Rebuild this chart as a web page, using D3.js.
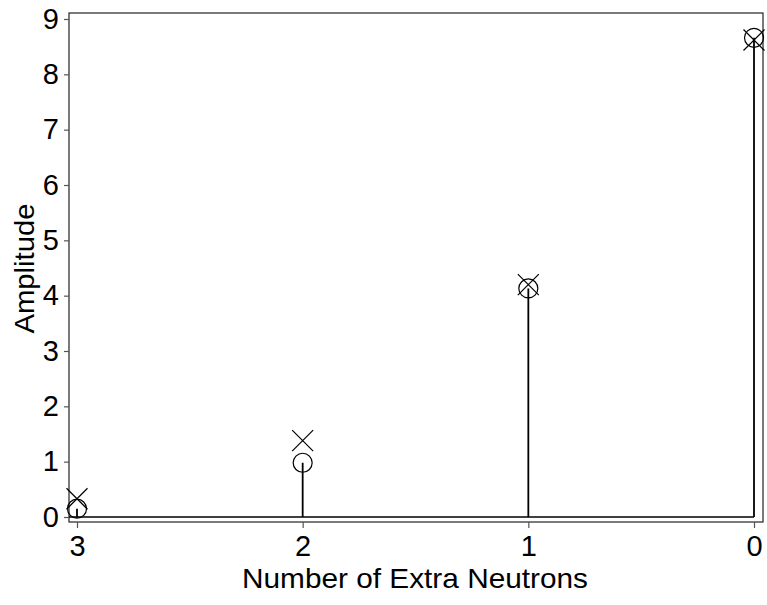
<!DOCTYPE html>
<html>
<head>
<meta charset="utf-8">
<script src="https://cdn.jsdelivr.net/npm/d3@7"></script>
<style>
  body { margin: 0; background: #fff; }
  svg text { font-family: "Liberation Sans", Arial, sans-serif; }
</style>
</head>
<body>
<div id="chart"></div>
<script>
// data
var neutrons = [3, 2, 1, 0];
var circleAmp = [0.15, 0.98, 4.13, 8.66];
var crossAmp = [0.33, 1.38, 4.2, 8.62];
var yTicks = [0, 1, 2, 3, 4, 5, 6, 7, 8, 9];

var width = 767, height = 605;
var box = { left: 69, top: 13, right: 763, bottom: 522 };

var svg = d3.select("#chart").append("svg")
    .attr("width", width)
    .attr("height", height);

var x = d3.scaleLinear().domain([3, 0]).range([77, 754]);
var y = d3.scaleLinear().domain([0, 9]).range([517, 19]);

// frame
svg.append("rect")
    .attr("x", box.left)
    .attr("y", box.top)
    .attr("width", box.right - box.left)
    .attr("height", box.bottom - box.top)
    .attr("fill", "none")
    .attr("stroke", "#222")
    .attr("stroke-width", 1.2);

// axes
var yAxis = svg.append("g")
    .attr("transform", "translate(" + box.left + ",0)")
    .call(d3.axisLeft(y).tickValues(yTicks).tickSize(5).tickPadding(5).tickFormat(d3.format("d")));

var xAxis = svg.append("g")
    .attr("transform", "translate(0," + box.bottom + ")")
    .call(d3.axisBottom(x).tickValues(neutrons).tickSize(6).tickPadding(7).tickFormat(d3.format("d")));

[yAxis, xAxis].forEach(function(g) {
    g.select(".domain").remove();
    g.selectAll(".tick line").attr("stroke", "#555").attr("stroke-width", 1.2);
    g.selectAll(".tick text").attr("font-size", 29).attr("fill", "#000")
        .attr("font-family", "Liberation Sans, Arial, sans-serif");
});

// baseline
svg.append("line")
    .attr("x1", box.left).attr("x2", x(0))
    .attr("y1", y(0)).attr("y2", y(0))
    .attr("stroke", "#000").attr("stroke-width", 1.6);

// stems
svg.selectAll(".stem")
    .data(neutrons)
    .enter().append("line")
    .attr("class", "stem")
    .attr("x1", function(d) { return x(d); })
    .attr("x2", function(d) { return x(d); })
    .attr("y1", y(0))
    .attr("y2", function(d, i) { return y(circleAmp[i]); })
    .attr("stroke", "#000")
    .attr("stroke-width", 1.8);

// circles
svg.selectAll(".circ")
    .data(neutrons)
    .enter().append("circle")
    .attr("class", "circ")
    .attr("cx", function(d) { return x(d); })
    .attr("cy", function(d, i) { return y(circleAmp[i]); })
    .attr("r", 9.5)
    .attr("fill", "none")
    .attr("stroke", "#000")
    .attr("stroke-width", 1.2);

// crosses
var cs = 10.5;
svg.selectAll(".cross")
    .data(neutrons)
    .enter().append("path")
    .attr("class", "cross")
    .attr("d", function(d, i) {
        var cx = x(d), cy = y(crossAmp[i]);
        return "M" + (cx - cs) + "," + (cy - cs) + "L" + (cx + cs) + "," + (cy + cs) +
               "M" + (cx - cs) + "," + (cy + cs) + "L" + (cx + cs) + "," + (cy - cs);
    })
    .attr("fill", "none")
    .attr("stroke", "#000")
    .attr("stroke-width", 1.2);

// axis titles
svg.append("text")
    .attr("x", 415)
    .attr("y", 588)
    .attr("text-anchor", "middle")
    .attr("font-size", 28)
    .attr("textLength", 346)
    .attr("lengthAdjust", "spacingAndGlyphs")
    .text("Number of Extra Neutrons");

svg.append("text")
    .attr("transform", "translate(34," + ((box.top + box.bottom) / 2 + 1) + ") rotate(-90)")
    .attr("text-anchor", "middle")
    .attr("font-size", 28)
    .attr("textLength", 130)
    .attr("lengthAdjust", "spacingAndGlyphs")
    .text("Amplitude");
</script>
</body>
</html>
